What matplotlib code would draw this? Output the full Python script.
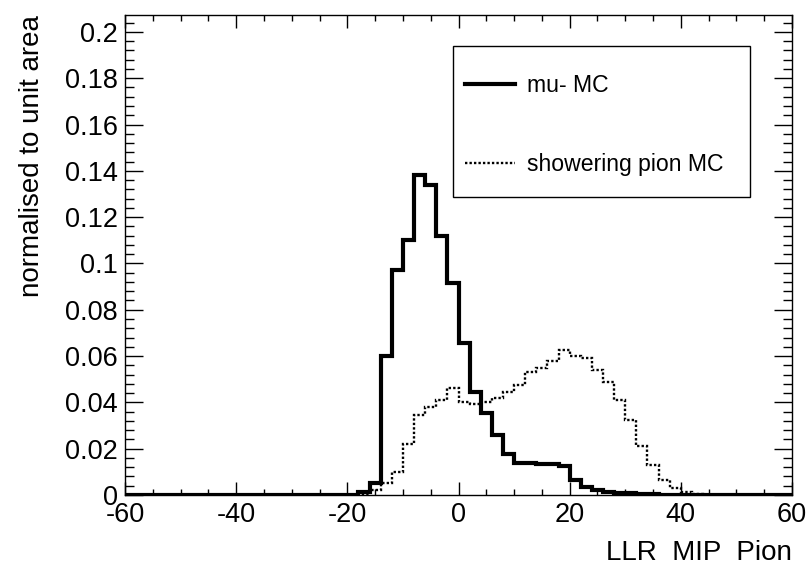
import numpy as np
import matplotlib
matplotlib.use("Agg")
import matplotlib.pyplot as plt
from matplotlib.lines import Line2D
from matplotlib.patches import Rectangle
from matplotlib.ticker import MultipleLocator, FormatStrFormatter

plt.rcParams['font.family'] = ['Liberation Sans', 'DejaVu Sans']
plt.rcParams['axes.unicode_minus'] = False

# LLR bins: 60 bins of width 2 from -60 to 60
bin_edges = np.arange(-60, 62, 2)

mu_mc = [0.0] * 21 + [
    0.0015, 0.005, 0.060, 0.097, 0.110, 0.138, 0.134, 0.112, 0.0914, 0.0658,
    0.0446, 0.0354, 0.0259, 0.0175, 0.0140, 0.0137, 0.0133, 0.0132, 0.0125, 0.0065,
    0.0036, 0.0022, 0.0015, 0.0010, 0.0007, 0.0005, 0.0003, 0.0002, 0.0001,
] + [0.0] * 10

pion_mc = [0.0] * 21 + [
    0.0005, 0.002, 0.005, 0.010, 0.022, 0.0345, 0.038, 0.041, 0.046, 0.040,
    0.0395, 0.040, 0.042, 0.0446, 0.0475, 0.053, 0.055, 0.058, 0.0626, 0.060,
    0.059, 0.054, 0.049, 0.041, 0.0324, 0.021, 0.013, 0.0065, 0.003, 0.0012,
    0.0004,
] + [0.0] * 8

labels = ["mu- MC", "showering pion MC"]
tick_fs = 19.5
title_fs = 20
leg_fs = 16.6

fig = plt.figure(figsize=(8.07, 5.72), dpi=100)
ax = fig.add_axes([125/807, 77/572, 667/807, 480/572])

ax.stairs(pion_mc, bin_edges, color='black', lw=1.7, linestyle=(0, (1, 0.9)))
ax.stairs(mu_mc, bin_edges, color='black', lw=3)

ax.set_xlim(-60, 60)
ax.set_ylim(0, 0.2073)

ax.xaxis.set_major_locator(MultipleLocator(20))
ax.xaxis.set_minor_locator(MultipleLocator(5))
ax.yaxis.set_major_locator(MultipleLocator(0.02))
ax.yaxis.set_minor_locator(MultipleLocator(0.004))
ax.xaxis.set_major_formatter(FormatStrFormatter('%g'))
ax.yaxis.set_major_formatter(FormatStrFormatter('%g'))

ax.tick_params(axis='both', which='both', direction='in', top=True, right=True,
               width=1, labelsize=tick_fs)
ax.tick_params(axis='x', which='major', length=9.5, pad=5)
ax.tick_params(axis='x', which='minor', length=4.5)
ax.tick_params(axis='y', which='major', length=13, pad=5)
ax.tick_params(axis='y', which='minor', length=6.5)
for s in ax.spines.values():
    s.set_linewidth(1)

ax.set_xlabel("LLR  MIP  Pion", fontsize=title_fs, loc='right')
ax.xaxis.set_label_coords(1.0, -(553 - 495) / 480)
ax.xaxis.label.set_verticalalignment('center')
ax.set_ylabel("normalised to unit area", fontsize=title_fs, loc='top')
ax.yaxis.set_label_coords(-(125 - 32) / 667, 1.0)
ax.yaxis.label.set_verticalalignment('center')

# legend box
fig.add_artist(Rectangle((453/807, 1 - 197/572), 297/807, 151/572,
                         transform=fig.transFigure, fill=False, ec='black', lw=1))
handles = [Line2D([], [], color='black', lw=3),
           Line2D([], [], color='black', lw=1.7, linestyle=(0, (1, 0.9)))]
ax.legend(handles, labels, loc='upper left', bbox_to_anchor=(465/807, 1 - 74.5/572),
          bbox_transform=fig.transFigure, frameon=False, fontsize=leg_fs,
          borderpad=0, borderaxespad=0, handlelength=2.16, handletextpad=0.52,
          labelspacing=2.4)

fig.savefig("out.png", dpi=100)
